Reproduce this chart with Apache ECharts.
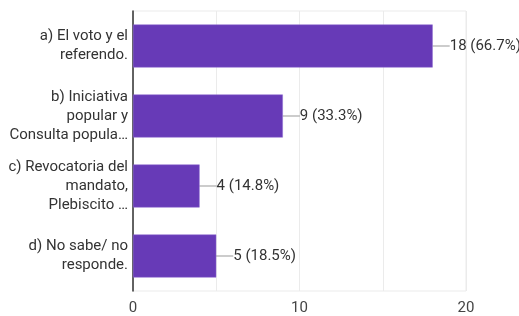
<!DOCTYPE html>
<html>
<head>
<meta charset="utf-8">
<script src="https://cdn.jsdelivr.net/npm/echarts@6/dist/echarts.min.js"></script>
<style>
  html, body { margin: 0; padding: 0; background: #fff; }
  #chart { width: 519px; height: 316px; }
</style>
</head>
<body>
<div id="chart"></div>
<script>
// answers (already wrapped the way the form shows them)
var categories = [
  'a) El voto y el\nreferendo.',
  'b) Iniciativa\npopular y\nConsulta popula…',
  'c) Revocatoria del\nmandato,\nPlebiscito …',
  'd) No sabe/ no\nresponde.'
];
var counts = [18, 9, 4, 5];
var percents = ['66.7%', '33.3%', '14.8%', '18.5%'];

var myChart = echarts.init(document.getElementById('chart'));
myChart.setOption({
  animation: false,
  textStyle: { fontFamily: 'Roboto' },
  grid: {
    left: 133,
    right: 53,
    top: 11,
    bottom: 25,
    show: true,
    borderColor: '#ebebeb',
    borderWidth: 1
  },
  xAxis: {
    type: 'value',
    min: 0,
    max: 20,
    interval: 10,
    axisLine: { show: false },
    axisTick: { show: false },
    axisLabel: { color: '#444', fontSize: 15, margin: 10 },
    splitLine: { lineStyle: { color: '#ebebeb' } },
    minorTick: { show: false, splitNumber: 2 },
    minorSplitLine: { show: true, lineStyle: { color: '#ebebeb' } }
  },
  yAxis: {
    type: 'category',
    inverse: true,
    data: categories,
    axisLine: { show: true, lineStyle: { color: '#333', width: 1.5 } },
    axisTick: { show: false },
    axisLabel: { color: '#333', fontSize: 15, lineHeight: 19, margin: 5 }
  },
  series: [
    {
      type: 'bar',
      data: counts,
      barWidth: 43,
      itemStyle: { color: '#673ab7', borderColor: '#8c6bd0', borderWidth: 0.5 },
      label: {
        show: true,
        position: 'right',
        distance: 0,
        color: '#333',
        fontSize: 15,
        formatter: function (p) {
          return counts[p.dataIndex] + ' (' + percents[p.dataIndex] + ')';
        }
      },
      labelLayout: { dx: 17 },
      labelLine: { show: true, lineStyle: { color: '#999', width: 1 } }
    }
  ]
});
</script>
</body>
</html>
